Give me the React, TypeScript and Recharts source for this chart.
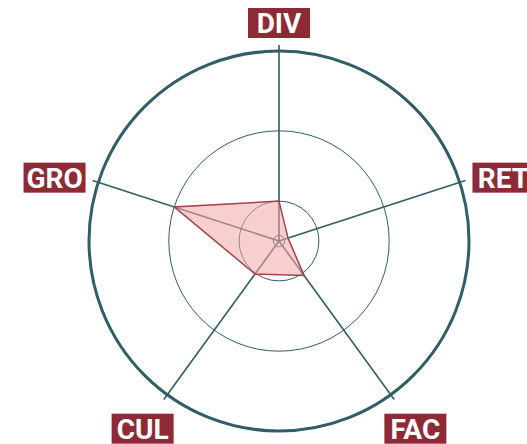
import { PolarAngleAxis, PolarGrid, PolarRadiusAxis, Radar, RadarChart } from "recharts";

const categories = ["DIV", "RET", "FAC", "CUL", "GRO"];
const scores = [21, 5, 22.5, 21.5, 58];
const ringTicks = [3, 21, 58, 100];

const data = categories.map((name, i) => ({ name, score: scores[i] }));

const CX = 279;
const CY = 241;
const RING = 190; // radius of the outer ring (value 100)
const OUTER = 196; // spokes run a little past the ring
const MAX = (100 * OUTER) / RING;

const teal = "#2f5d68";
const wine = "#8d2a35";

function LabelTick(props: any) {
  const { x, y, payload } = props;
  const cx = props.cx ?? CX;
  const cy = props.cy ?? CY;
  const dx = x - cx;
  const dy = y - cy;
  const len = Math.hypot(dx, dy) || 1;
  const ux = dx / len;
  const uy = dy / len;
  let bx: number;
  let by: number;
  if (uy < -0.9) {
    bx = cx + ux * 218;
    by = cy + uy * 218;
  } else if (Math.abs(uy) < 0.5) {
    bx = cx + ux * 236;
    by = cy + uy * 205;
  } else {
    bx = cx + ux * 232;
    by = cy + uy * 232;
  }
  return (
    <g>
      <rect x={bx - 31} y={by - 15} width={62} height={30} fill={wine} />
      <text
        x={bx}
        y={by + 10}
        textAnchor="middle"
        fill="#fff"
        fontFamily="Roboto, 'Liberation Sans', sans-serif"
        fontWeight={700}
        fontSize={28}
      >
        {payload.value}
      </text>
    </g>
  );
}

export default function App() {
  return (
    <div style={{ position: "absolute", left: 0, top: 0, background: "#fff" }}>
      <RadarChart
        width={527}
        height={444}
        data={data}
        cx={CX}
        cy={CY}
        outerRadius={OUTER}
        margin={{ top: 0, right: 0, bottom: 0, left: 0 }}
      >
        {/* spokes */}
        <PolarGrid gridType="circle" polarRadius={[]} stroke={teal} strokeWidth={1.6} strokeOpacity={1} />
        {/* thin rings at the radius ticks */}
        <PolarGrid gridType="circle" radialLines={false} stroke={teal} strokeWidth={1} strokeOpacity={1} />
        {/* heavy outer ring */}
        <PolarGrid
          gridType="circle"
          radialLines={false}
          polarRadius={[RING]}
          stroke={teal}
          strokeWidth={3}
          strokeOpacity={1}
        />
        <PolarRadiusAxis
          type="number"
          domain={[0, MAX]}
          ticks={ringTicks}
          tick={false}
          axisLine={false}
          stroke="none"
        />
        <PolarAngleAxis dataKey="name" tick={<LabelTick />} tickLine={false} axisLine={false} />
        <Radar
          dataKey="score"
          stroke="#a3444c"
          strokeWidth={1.5}
          fill="#f4a6a6"
          fillOpacity={0.55}
          isAnimationActive={false}
        />
      </RadarChart>
    </div>
  );
}
